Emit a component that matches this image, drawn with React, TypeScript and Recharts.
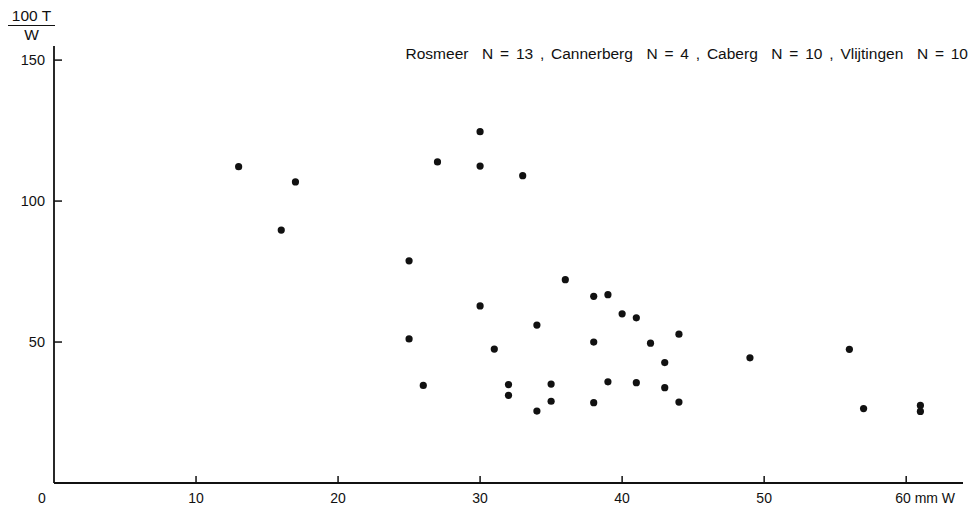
import React from "react";
import { ScatterChart, Scatter, XAxis, YAxis } from "recharts";

// W (mm) of each specimen
const widths = [13, 17, 16, 27, 30, 30, 33, 25, 36, 38, 39, 30, 40, 41, 34, 25, 38, 42, 44, 31, 43, 26, 32, 32, 35, 35, 34, 39, 41, 43, 38, 44, 49, 56, 57, 61, 61];
// 100 T / W
const ratios = [112.2, 106.8, 89.7, 113.9, 124.6, 112.4, 109.0, 78.8, 72.1, 66.2, 66.8, 62.8, 60.0, 58.6, 56.0, 51.1, 50.0, 49.6, 52.8, 47.5, 42.7, 34.6, 34.9, 31.1, 35.1, 29.0, 25.5, 35.9, 35.6, 33.8, 28.5, 28.7, 44.4, 47.4, 26.4, 27.5, 25.4];

const xTicks = [0, 10, 20, 30, 40, 50, 60];
const yTicks = [50, 100, 150];
const legendText = "Rosmeer  N = 13 , Cannerberg  N = 4 , Caberg  N = 10 , Vlijtingen  N = 10";

const data = widths.map((w, i) => ({ w, r: ratios[i] }));

const FONT = "'Liberation Sans', Arial, Helvetica, sans-serif";
const INK = "#111";

const XTick = (props: any) => {
  const { x, y, payload } = props;
  const v = payload.value;
  let label: React.ReactNode;
  if (v === 0) {
    label = (
      <text x={x - 12} y={y + 20} textAnchor="middle" fontSize={14} fill={INK} fontFamily={FONT}>0</text>
    );
  } else if (v === 60) {
    label = (
      <text x={x - 11} y={y + 20} textAnchor="start" fontSize={14} fill={INK} fontFamily={FONT}>60 mm W</text>
    );
  } else {
    label = (
      <text x={x} y={y + 20} textAnchor="middle" fontSize={14} fill={INK} fontFamily={FONT}>{v}</text>
    );
  }
  return (
    <g>
      {v !== 0 && <line x1={x} y1={y} x2={x} y2={y - 7} stroke={INK} strokeWidth={1.5} />}
      {label}
    </g>
  );
};

const YTick = (props: any) => {
  const { x, y, payload } = props;
  return (
    <g>
      <line x1={x} y1={y} x2={x + 8} y2={y} stroke={INK} strokeWidth={1.5} />
      <text x={x - 9} y={y + 5} textAnchor="end" fontSize={14.5} fill={INK} fontFamily={FONT}>{payload.value}</text>
    </g>
  );
};

const Dot = (props: any) => {
  const { cx, cy } = props;
  return <circle cx={cx} cy={cy} r={3.6} fill={INK} />;
};

export default function App() {
  return (
    <div style={{ position: "absolute", left: 0, top: 0, width: 979, height: 510, background: "#fff", fontFamily: FONT }}>
      <ScatterChart width={979} height={510} margin={{ top: 46, right: 16, bottom: 0, left: 0 }}>
        <XAxis
          type="number"
          dataKey="w"
          domain={[0, 64]}
          ticks={xTicks}
          tick={<XTick />}
          tickSize={0}
          tickMargin={0}
          height={27}
          axisLine={{ stroke: INK, strokeWidth: 1.8 }}
          tickLine={false}
          interval={0}
          allowDataOverflow
        />
        <YAxis
          type="number"
          dataKey="r"
          domain={[0, 155]}
          ticks={yTicks}
          tick={<YTick />}
          tickSize={0}
          tickMargin={0}
          width={54}
          axisLine={{ stroke: INK, strokeWidth: 1.8 }}
          tickLine={false}
          interval={0}
          allowDataOverflow
        />
        <Scatter data={data} shape={<Dot />} isAnimationActive={false} />
      </ScatterChart>
      <div style={{ position: "absolute", left: 8, top: 8, width: 47, textAlign: "center", fontSize: 15.5, color: INK, lineHeight: "16px" }}>
        <div style={{ borderBottom: `1.8px solid ${INK}`, paddingBottom: 1 }}>100 T</div>
        <div style={{ paddingTop: 1 }}>W</div>
      </div>
      <div style={{ position: "absolute", right: 11, top: 45, fontSize: 15.5, color: INK, whiteSpace: "pre", wordSpacing: 2.5 }}>
        {legendText}
      </div>
    </div>
  );
}
